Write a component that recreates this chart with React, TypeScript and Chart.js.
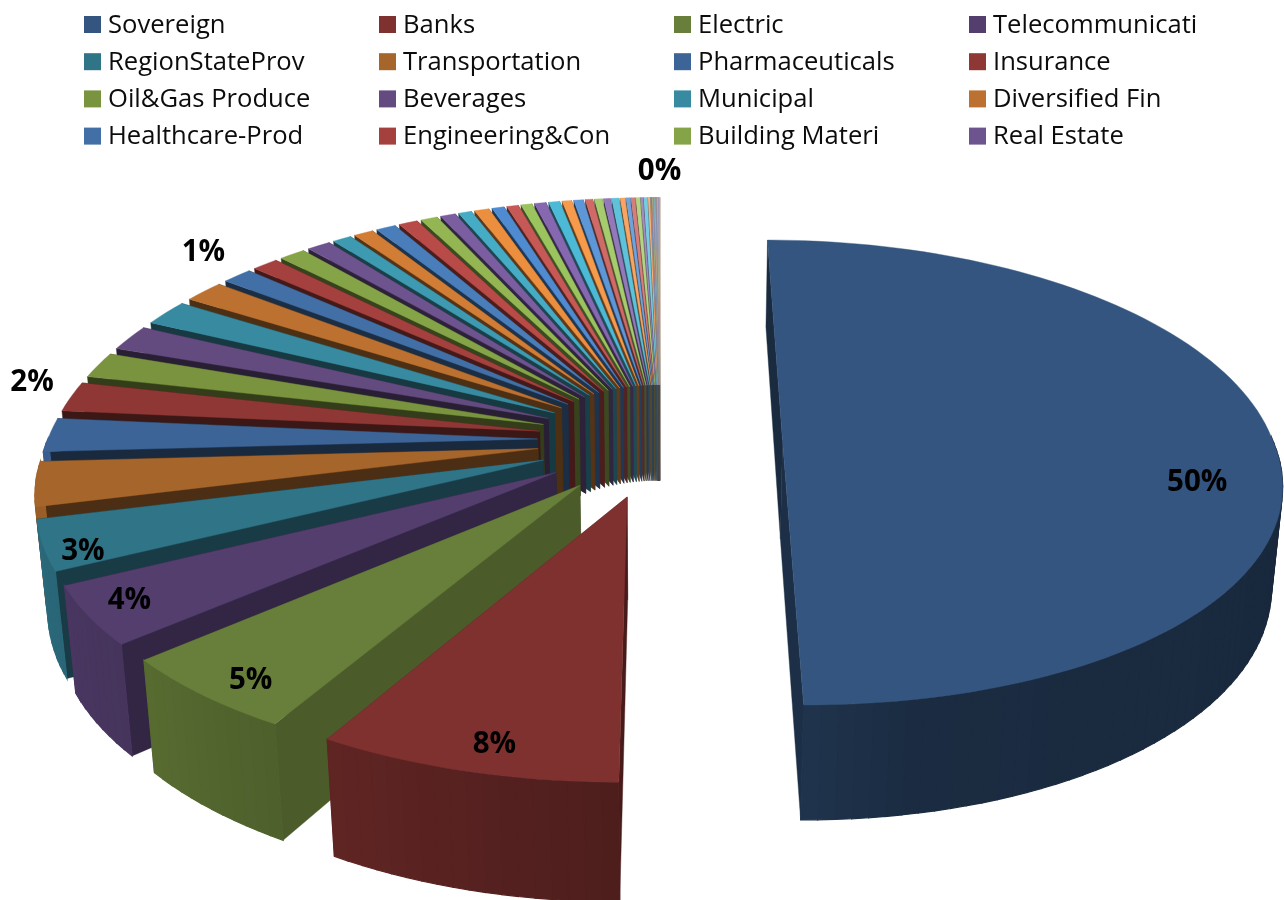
import React, { useEffect, useRef } from "react";
import { Chart, registerables } from "chart.js";

Chart.register(...registerables);

const legendNames = [
  "Sovereign", "Banks", "Electric", "Telecommunicati",
  "RegionStateProv", "Transportation", "Pharmaceuticals", "Insurance",
  "Oil&Gas Produce", "Beverages", "Municipal", "Diversified Fin",
  "Healthcare-Prod", "Engineering&Con", "Building Materi", "Real Estate",
];

const shareValues = [
  50, 8.2, 5.3, 4.05, 3.45, 3.05, 2.33, 2.08, 1.8, 1.8, 1.8, 1.55, 1.15, 1.0, 1.0, 0.9,
  0.72, 0.75, 0.75, 0.72, 0.64, 0.58, 0.5, 0.56, 0.47, 0.44, 0.42, 0.44, 0.42, 0.36,
  0.36, 0.28, 0.29, 0.24, 0.27, 0.18, 0.15, 0.15, 0.15, 0.09, 0.14, 0.07,
  0.025, 0.025, 0.025, 0.025, 0.025, 0.025, 0.025, 0.025, 0.025, 0.025, 0.025, 0.025,
];

const sliceColors = [
  "#34557F", "#7F312F", "#677F3A", "#533E6E", "#2F7487", "#A6652B",
  "#3C6497", "#8E3735", "#7A933F", "#634B80", "#378A9F", "#BC7131",
  "#4270A6", "#A4403D", "#85A448", "#6E548F", "#3D9AB1", "#D17D35",
  "#4A7EBB", "#B84A47", "#93B652", "#7A5EA0", "#46ACC6", "#EB8E3D",
  "#4F8BD0", "#C65955", "#9CC45E", "#8668B0", "#4CBAD6", "#F69A4B",
  "#5D97D8", "#CF6A67", "#A7CC6E", "#9479BA", "#5FC2DB", "#F7A560",
  "#70A3DC", "#D67E7B", "#B4D482", "#A28CC4", "#77CCE1", "#F8B178",
  "#84AFE1", "#DC918F", "#C0DB96", "#B09FCE", "#8CD4E6", "#F9BD8F",
  "#98BCE6", "#E3A5A3", "#CCE2AA", "#BEB2D8", "#A3DCEB", "#FAC9A6",
];

// slice index, distance along the radius, angular shift in degrees
const labelledSlices = [
  [0, 0.834, 12],
  [1, 0.905, -1.3],
  [2, 0.91, -1.6],
  [3, 0.912, 1],
  [4, 0.932, -2.5],
  [8, 1.108, -5.5],
  [12, 1.163, 2.3],
  [shareValues.length - 1, 1.17, 0],
];

// Projection of the pie plane (u right, v to the viewer, radius 1)
const VX = 660;
const VY = -1194;
const DIST = 7.17;
const PLANE = 1634;
const RADIUS = 490;
const NEAR_WIDEN = 0.022;
const EXPLODE = 0.25;
const DEPTH = 115;
const NADIR = 6187;

const project = (u: number, v: number) => {
  const s = DIST / (DIST - v);
  const widen = 1 + NEAR_WIDEN * Math.max(0, v);
  return { x: VX + RADIUS * u * s * widen, y: VY + PLANE * s, s };
};
const drop = (u: number, v: number) => {
  const p = project(u, v);
  const d = (DEPTH * p.s) / 1.162;
  return { x: p.x - ((p.x - VX) * d) / (NADIR - p.y), y: p.y + d };
};

const shade = (hex: string, f: number) => {
  const n = parseInt(hex.slice(1), 16);
  const c = [(n >> 16) & 255, (n >> 8) & 255, n & 255].map((k) => Math.round(k * f));
  return `rgb(${c[0]},${c[1]},${c[2]})`;
};
const lerpTable = (t: number[][], x: number) => {
  if (x <= t[0][0]) return t[0][1];
  for (let i = 1; i < t.length; i++) {
    if (x <= t[i][0]) {
      const [a, fa] = t[i - 1];
      const [b, fb] = t[i];
      return fa + ((fb - fa) * (x - a)) / (b - a);
    }
  }
  return t[t.length - 1][1];
};
const outerShade = [[90, 0.46], [170, 0.52], [182, 0.62], [209, 0.75], [228, 0.84], [270, 0.95]];
const edgeShade = [[0, 0.5], [180, 0.55], [209, 0.73], [228, 0.62], [245, 0.5], [265, 0.42], [360, 0.4]];

const fillPoly = (
  ctx: CanvasRenderingContext2D,
  pts: { x: number; y: number }[],
  color: string,
  seam = 0.4
) => {
  ctx.beginPath();
  pts.forEach((p, i) => (i ? ctx.lineTo(p.x, p.y) : ctx.moveTo(p.x, p.y)));
  ctx.closePath();
  ctx.fillStyle = color;
  ctx.strokeStyle = color;
  ctx.lineWidth = seam;
  ctx.fill();
  ctx.stroke();
};

const degOf = (a: number) => (((a + Math.PI / 2) * 180) / Math.PI + 720) % 360;

const drawSlice = (ctx: CanvasRenderingContext2D, arc: any, color: string) => {
  const a0 = arc.startAngle;
  const a1 = arc.endAngle;
  const mid = (a0 + a1) / 2;
  const ox = EXPLODE * Math.cos(mid);
  const oy = EXPLODE * Math.sin(mid);
  const rim = (a: number): [number, number] => [ox + Math.cos(a), oy + Math.sin(a)];

  const edgeEnd = [project(ox, oy), project(...rim(a1)), drop(...rim(a1)), drop(ox, oy)];
  const edgeStart = [project(ox, oy), project(...rim(a0)), drop(...rim(a0)), drop(ox, oy)];
  fillPoly(ctx, edgeEnd, shade(color, lerpTable(edgeShade, degOf(a1 - 1e-6))));
  fillPoly(ctx, edgeStart, shade(color, lerpTable(edgeShade, degOf(a0))));

  const steps = Math.max(1, Math.ceil((a1 - a0) / 0.03));
  const top: { x: number; y: number }[] = [project(ox, oy)];
  for (let i = 0; i <= steps; i++) {
    const a = a0 + ((a1 - a0) * i) / steps;
    top.push(project(...rim(a)));
    if (i < steps) {
      const b = a0 + ((a1 - a0) * (i + 1)) / steps;
      if (Math.sin((a + b) / 2) > 0) {
        fillPoly(
          ctx,
          [project(...rim(a)), project(...rim(b)), drop(...rim(b)), drop(...rim(a))],
          shade(color, lerpTable(outerShade, degOf((a + b) / 2))),
          1.2
        );
      }
    }
  }
  fillPoly(ctx, top, color);
};

const pie3d = {
  id: "pie3d",
  beforeDatasetsDraw(chart: any) {
    const ctx = chart.ctx as CanvasRenderingContext2D;
    const arcs = chart.getDatasetMeta(0).data;
    const colors = chart.data.datasets[0].backgroundColor;
    ctx.save();
    drawSlice(ctx, arcs[0], colors[0]);
    for (let i = arcs.length - 1; i >= 1; i--) drawSlice(ctx, arcs[i], colors[i]);
    ctx.restore();
    return false;
  },
  afterDraw(chart: any) {
    const ctx = chart.ctx as CanvasRenderingContext2D;
    const arcs = chart.getDatasetMeta(0).data;
    const values = chart.data.datasets[0].data as number[];
    const total = values.reduce((a, b) => a + b, 0);
    const colors = chart.data.datasets[0].backgroundColor;
    ctx.save();

    ctx.font = 'bold 29.5px "Open Sans"';
    ctx.fillStyle = "#000";
    ctx.textAlign = "center";
    ctx.textBaseline = "middle";
    labelledSlices.forEach(([idx, r, shift]) => {
      const arc = arcs[idx];
      const mid = (arc.startAngle + arc.endAngle) / 2;
      const a = mid + (shift * Math.PI) / 180;
      const p = project(
        EXPLODE * Math.cos(mid) + r * Math.cos(a),
        EXPLODE * Math.sin(mid) + r * Math.sin(a)
      );
      ctx.fillText(`${Math.round((values[idx] / total) * 100)}%`, p.x, p.y + 2);
    });

    ctx.font = '25.6px "Open Sans"';
    ctx.textAlign = "left";
    legendNames.forEach((name, i) => {
      const col = i % 4;
      const row = Math.floor(i / 4);
      const x = 84 + col * 295;
      const y = 24.5 + row * 37.2;
      ctx.fillStyle = colors[i];
      ctx.fillRect(x, y - 8.5, 17, 17);
      ctx.fillStyle = "#0c0c0c";
      ctx.fillText(name, x + 24, y + 1);
    });
    ctx.restore();
  },
};

export default function App() {
  const ref = useRef<HTMLCanvasElement>(null);
  useEffect(() => {
    const chart = new Chart(ref.current as HTMLCanvasElement, {
      type: "pie",
      data: {
        labels: shareValues.map((_, i) => legendNames[i] ?? `Other ${i + 1}`),
        datasets: [{ data: shareValues, backgroundColor: sliceColors, borderWidth: 0 }],
      },
      options: {
        responsive: false,
        animation: false,
        plugins: { legend: { display: false }, tooltip: { enabled: false } },
      },
      plugins: [pie3d as any],
    });
    return () => chart.destroy();
  }, []);
  return (
    <canvas
      ref={ref}
      width={1284}
      height={900}
      style={{ position: "fixed", left: 0, top: 0, display: "block", background: "#fff" }}
    />
  );
}
